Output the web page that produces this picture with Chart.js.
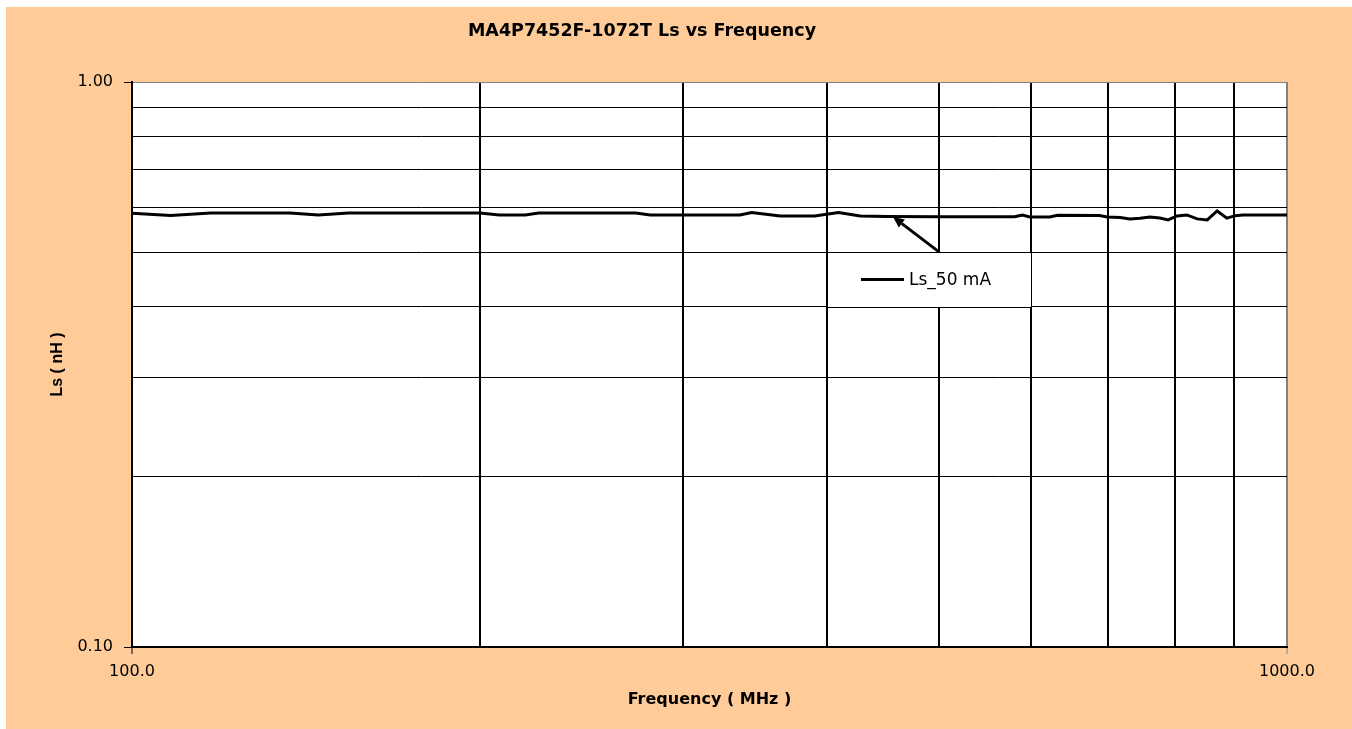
<!DOCTYPE html>
<html><head><meta charset="utf-8">
<script src="https://cdn.jsdelivr.net/npm/chart.js@4/dist/chart.umd.min.js"></script>
<style>html,body{margin:0;padding:0;background:#fff;overflow:hidden}#wrap{width:1352px;height:729px;position:relative}</style>
</head><body><div id="wrap"><canvas id="c" width="1352" height="729"></canvas></div>
<script>
const chartTitle = 'MA4P7452F-1072T Ls vs Frequency';
const xTitle = 'Frequency ( MHz )';
const yTitle = 'Ls ( nH )';
const seriesName = 'Ls_50 mA';

const frequencyMHz = [100, 108, 117, 137, 145, 154, 200, 208, 219, 225, 273, 281, 336, 344, 364, 390, 409, 427, 450, 500, 581, 590, 599, 623, 633, 688, 699, 717, 731, 746, 761, 776, 789, 803, 819, 836, 853, 870, 887, 902, 916, 1000];
const ls50mA = [0.5857, 0.5805, 0.5864, 0.5864, 0.5817, 0.5864, 0.5864, 0.5817, 0.5817, 0.5864, 0.5864, 0.5817, 0.5817, 0.5876, 0.5793, 0.5793, 0.5876, 0.5793, 0.5780, 0.5777, 0.5777, 0.5817, 0.5770, 0.5770, 0.5810, 0.5805, 0.5770, 0.5754, 0.5724, 0.5740, 0.5770, 0.5746, 0.5700, 0.5793, 0.5817, 0.5724, 0.5700, 0.5912, 0.5740, 0.5800, 0.5817, 0.5817];

const xTickValues = [100, 200, 300, 400, 500, 600, 700, 800, 900, 1000];
const xTickLabels = ['100.0', '', '', '', '', '', '', '', '', '1000.0'];
const yTickValues = [0.1, 0.2, 0.3, 0.4, 0.5, 0.6, 0.7, 0.8, 0.9, 1.0];
const yTickLabels = ['0.10', '', '', '', '', '', '', '', '', '1.00'];

const points = frequencyMHz.map((f, i) => ({x: f, y: ls50mA[i]}));

const decor = {
  id: 'decor',
  beforeDraw(chart, args, o) {
    const {ctx, width, height, chartArea: a} = chart;
    ctx.save();
    ctx.fillStyle = '#ffffff';
    ctx.fillRect(0, 0, width, height);
    ctx.fillStyle = o.bg;
    ctx.fillRect(o.bgLeft, o.bgTop, width - o.bgLeft, height - o.bgTop);
    ctx.fillStyle = '#ffffff';
    ctx.fillRect(a.left, a.top, a.right - a.left, a.bottom - a.top);
    ctx.restore();
  },
  afterDraw(chart, args, o) {
    const {ctx, scales} = chart;
    const xs = scales.x, ys = scales.y;
    ctx.save();
    // title
    ctx.fillStyle = '#000';
    ctx.font = o.titleFont;
    ctx.textAlign = 'center';
    ctx.textBaseline = 'middle';
    ctx.fillText(chartTitle, o.titleX, o.titleY);
    // legend box
    const lx1 = Math.round(xs.getPixelForValue(o.legendX[0])), lx2 = Math.round(xs.getPixelForValue(o.legendX[1]));
    const ly1 = Math.round(ys.getPixelForValue(o.legendY[0])), ly2 = Math.round(ys.getPixelForValue(o.legendY[1]));
    ctx.fillStyle = '#fff';
    ctx.fillRect(lx1, ly1, lx2 - lx1, ly2 - ly1);
    ctx.strokeStyle = '#000';
    ctx.lineWidth = 1;
    ctx.strokeRect(lx1 + 0.5, ly1 + 0.5, lx2 - lx1, ly2 - ly1);
    const cy = (ly1 + ly2) / 2;
    ctx.beginPath();
    ctx.lineWidth = 3;
    ctx.moveTo(lx1 + 34, cy);
    ctx.lineTo(lx1 + 77, cy);
    ctx.stroke();
    ctx.font = o.legendFont;
    ctx.textAlign = 'left';
    ctx.textBaseline = 'middle';
    ctx.fillStyle = '#000';
    ctx.fillText(seriesName, lx1 + 82, cy + 1);
    // arrow
    const tx = xs.getPixelForValue(o.arrowFrom[0]), ty = ys.getPixelForValue(o.arrowFrom[1]);
    const hx = xs.getPixelForValue(o.arrowTo[0]), hy = ys.getPixelForValue(o.arrowTo[1]);
    const ang = Math.atan2(hy - ty, hx - tx);
    const L = 11, W = 5;
    const bx = hx - L * Math.cos(ang), by = hy - L * Math.sin(ang);
    ctx.beginPath();
    ctx.lineWidth = 3;
    ctx.moveTo(tx, ty);
    ctx.lineTo(bx, by);
    ctx.stroke();
    ctx.beginPath();
    ctx.moveTo(hx, hy);
    ctx.lineTo(bx + W * Math.sin(ang), by - W * Math.cos(ang));
    ctx.lineTo(bx - W * Math.sin(ang), by + W * Math.cos(ang));
    ctx.closePath();
    ctx.fill();
    ctx.restore();
  }
};

new Chart(document.getElementById('c'), {
  type: 'line',
  data: {
    datasets: [{
      label: seriesName,
      data: points,
      borderColor: '#000',
      borderWidth: 3,
      pointRadius: 0,
      tension: 0,
      fill: false
    }]
  },
  options: {
    responsive: false,
    animation: false,
    devicePixelRatio: 1,
    layout: {padding: {top: 82, left: 0, right: 65, bottom: 0}},
    plugins: {
      legend: {display: false},
      title: {display: false},
      tooltip: {enabled: false},
      decor: {
        bg: '#ffcc99', bgLeft: 6, bgTop: 7,
        titleFont: 'bold 17.5px "DejaVu Sans"', titleX: 642, titleY: 31,
        legendFont: '17px "DejaVu Sans"',
        legendX: [400, 600], legendY: [0.5, 0.4],
        arrowFrom: [500, 0.5], arrowTo: [456, 0.577]
      }
    },
    scales: {
      x: {
        type: 'logarithmic',
        min: 100, max: 1000,
        afterBuildTicks: s => { s.ticks = xTickValues.map(v => ({value: v})); },
        afterFit: s => { s.height = 82; },
        ticks: {
          callback: (v, i) => xTickLabels[i],
          autoSkip: false, maxRotation: 0,
          color: '#000', padding: 8,
          font: {family: '"DejaVu Sans"', size: 16}
        },
        grid: {
          color: c => (c.tick && c.tick.value === 1000) ? '#808080' : '#000',
          lineWidth: 2,
          tickLength: 7,
          tickWidth: 1,
          tickColor: c => (c.index === 0 ? '#000' : (xTickLabels[c.index] ? '#808080' : 'rgba(0,0,0,0)'))
        },
        border: {display: true, color: '#000', width: 2},
        title: {
          display: true, text: xTitle, color: '#000',
          font: {family: '"DejaVu Sans"', size: 16, weight: 'bold'},
          padding: {top: 0, bottom: 20}
        }
      },
      y: {
        type: 'logarithmic',
        min: 0.1, max: 1.0,
        afterBuildTicks: s => { s.ticks = yTickValues.map(v => ({value: v})); },
        afterFit: s => { s.width = 132; },
        ticks: {
          callback: (v, i) => yTickLabels[i],
          autoSkip: false,
          color: '#000', padding: 11,
          font: {family: '"DejaVu Sans"', size: 16}
        },
        grid: {
          color: c => (c.tick && c.tick.value === 1.0) ? '#808080' : '#000',
          lineWidth: 1,
          tickLength: 8,
          tickWidth: 1,
          tickColor: c => (yTickLabels[c.index] ? '#000' : 'rgba(0,0,0,0)')
        },
        border: {display: true, color: '#000', width: 2},
        title: {
          display: true, text: yTitle, color: '#000',
          font: {family: '"Liberation Sans"', size: 16, weight: 'bold'},
          padding: {top: 48, bottom: 0}
        }
      }
    }
  },
  plugins: [decor]
});
</script>
</body></html>
